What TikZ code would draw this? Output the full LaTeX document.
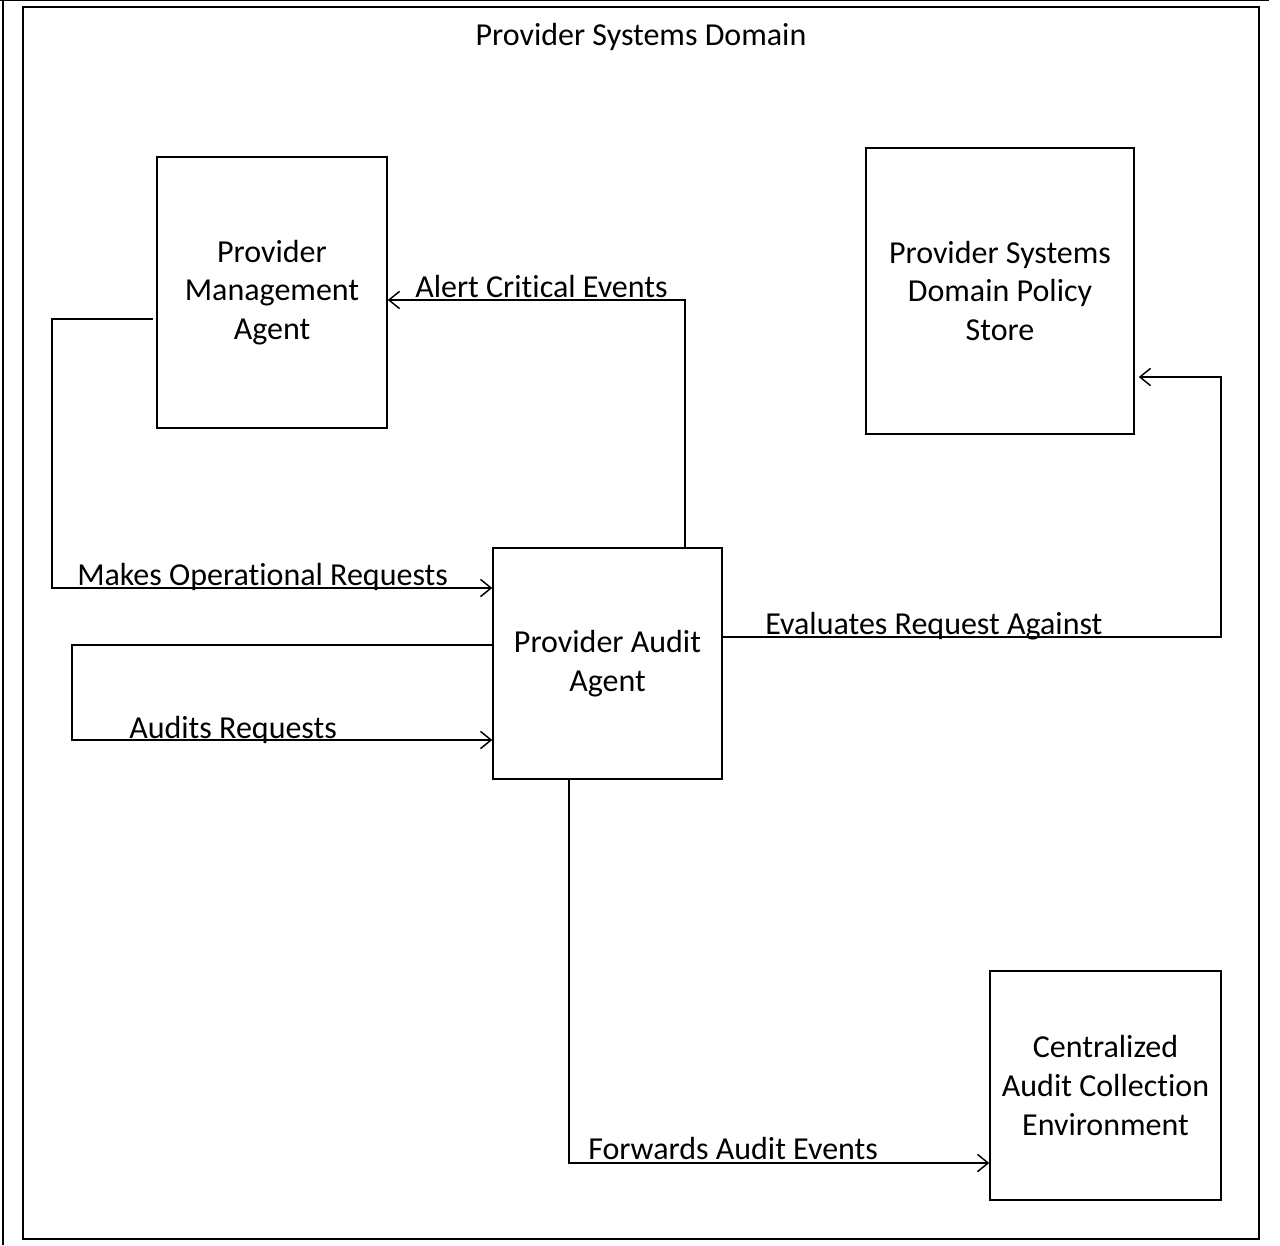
\documentclass[tikz,border=0pt]{standalone}
\usepackage{fontspec}
\setmainfont{Carlito}[Ligatures=NoCommon]
\usetikzlibrary{arrows.meta}
\newcommand{\nolig}{\kern0pt}
\begin{document}
\begin{tikzpicture}[x=0.75pt,y=-0.75pt,
  every node/.style={font=\fontsize{24}{28.9}\selectfont, inner sep=0pt},
  box/.style={draw, line width=1.1pt, align=center},
  lbl/.style={anchor=base west},
  conn/.style={line width=1.1pt, -{Straight Barb[length=8pt,width=13pt,line width=1.1pt]}},
  frame/.style={line width=1.5pt}]
\useasboundingbox (0,0) rectangle (1280,1245);
% outer page lines
\draw[line width=2.2pt] (3,0) -- (3,1245);
\draw[line width=0.8pt] (0,0.6) -- (1269,0.6);
% domain frame
\draw[frame] (23,7) rectangle (1259,1239);
\node[anchor=base] (title) at (641,46) {Provider Systems Domain};
% boxes
\node[box, minimum width=172.5pt, minimum height=203.25pt] (pma) at (272,292.5) {Provider\\Management\\Agent};
\node[box, minimum width=201pt, minimum height=214.5pt] (pol) at (1000,291) {Provider Systems\\Domain Policy\\Store};
\node[box, minimum width=171.75pt, minimum height=173.25pt] (aud) at (607.5,663.5) {Provider Audit\\Agent};
\node[box, minimum width=173.25pt, minimum height=171.75pt] (cae) at (1105.5,1085.5) {Centralized\\Audit Collect\nolig ion\\Environment};
% connectors
\coordinate (mstart) at (153,319);
\draw[conn] (aud.north -| 685,0) |- (pma.east |- 0,300);
\draw[conn] (mstart) -| (52,588) -- (aud.west |- 0,588);
\draw[conn] (aud.west |- 0,645) -| (72,740) -- (aud.west |- 0,740);
\draw[conn, shorten >=3pt] (aud.east |- 0,637) -| (1221,377) -- (pol.east |- 0,377);
\draw[conn] (aud.south -| 569,0) |- (cae.west |- 0,1163);
% labels
\node[lbl] (l1) at (415,297) {Alert Crit\nolig ical Events};
\node[lbl] (l2) at (77,585) {Makes Operat\nolig ional Requests};
\node[lbl] (l3) at (129,738) {Audits Requests};
\node[lbl] (l4) at (765,634) {Evaluates Request Against};
\node[lbl] (l5) at (588,1159) {Forwards Audit Events};
\end{tikzpicture}
\end{document}
